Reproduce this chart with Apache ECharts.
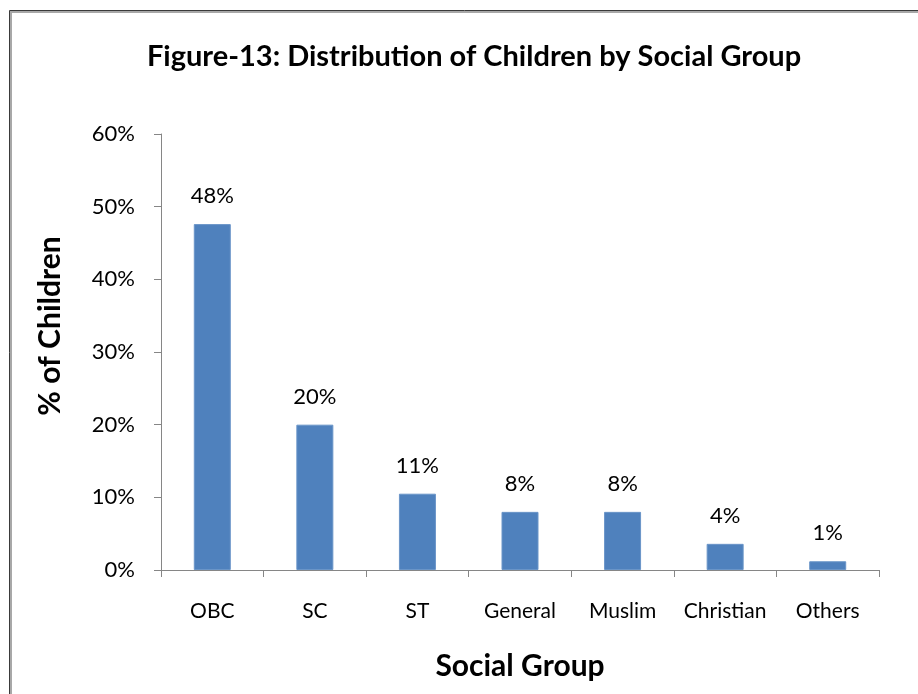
<!DOCTYPE html>
<html>
<head>
<meta charset="utf-8">
<script src="https://cdn.jsdelivr.net/npm/echarts@6/dist/echarts.min.js"></script>
<style>
  html, body { margin: 0; padding: 0; background: #fff; }
  #chart { width: 918px; height: 694px; }
</style>
</head>
<body>
<div id="chart"></div>
<script>
// Social groups and share of children (%) in each
const categories = ['OBC', 'SC', 'ST', 'General', 'Muslim', 'Christian', 'Others'];
const shareOfChildren = [47.6, 20.0, 10.5, 8.0, 8.0, 3.6, 1.2];
const yTicks = { min: 0, max: 60, interval: 10 };

const FONT = 'Lato, "Open Sans", sans-serif';
const chart = echarts.init(document.getElementById('chart'), null, { renderer: 'canvas' });

chart.setOption({
  backgroundColor: '#ffffff',
  animation: false,
  title: {
    text: 'Figure-13: Distribution of Children by Social Group',
    left: 469,
    textAlign: 'center',
    top: 37,
    textStyle: { fontFamily: FONT, fontWeight: 'bold', fontSize: 29, color: '#000' }
  },
  graphic: [
    // outer frame drawn around the figure
    { type: 'rect', shape: { x: 9.5, y: 10.5, width: 940, height: 720 },
      style: { fill: 'none', stroke: '#3a3a3a', lineWidth: 1 }, silent: true },
    { type: 'rect', shape: { x: 11, y: 12, width: 940, height: 720 },
      style: { fill: 'none', stroke: '#a8a8a8', lineWidth: 2 }, silent: true }
  ],
  grid: { left: 161, right: 39, top: 134, bottom: 124, containLabel: false },
  xAxis: {
    type: 'category',
    data: categories,
    name: 'Social Group',
    nameLocation: 'middle',
    nameGap: 81,
    nameTextStyle: { fontFamily: FONT, fontWeight: 'bold', fontSize: 30, color: '#000' },
    axisLine: { lineStyle: { color: '#868686', width: 1 } },
    axisTick: { show: true, length: 7, alignWithLabel: false, lineStyle: { color: '#868686' } },
    axisLabel: { interval: 0, margin: 31, fontFamily: FONT, fontSize: 21, color: '#000' }
  },
  yAxis: {
    type: 'value',
    min: yTicks.min,
    max: yTicks.max,
    interval: yTicks.interval,
    name: '% of Children',
    nameLocation: 'middle',
    nameRotate: 90,
    nameGap: 96,
    nameTextStyle: { fontFamily: FONT, fontWeight: 'bold', fontSize: 30, color: '#000',
      padding: [0, 0, 0, 52] },
    splitLine: { show: false },
    axisLine: { show: true, lineStyle: { color: '#868686', width: 1 } },
    axisTick: { show: true, length: 7, lineStyle: { color: '#868686' } },
    axisLabel: { margin: 26, fontFamily: FONT, fontSize: 22, color: '#000',
      formatter: v => v + '%' }
  },
  series: [{
    type: 'bar',
    data: shareOfChildren,
    barWidth: 37,
    itemStyle: { color: '#4F81BD', borderColor: '#6a95c8', borderWidth: 1 },
    label: {
      show: true,
      position: 'top',
      distance: 17,
      fontFamily: FONT,
      fontSize: 22,
      color: '#000',
      formatter: p => Math.round(p.value) + '%'
    }
  }]
});
</script>
</body>
</html>
